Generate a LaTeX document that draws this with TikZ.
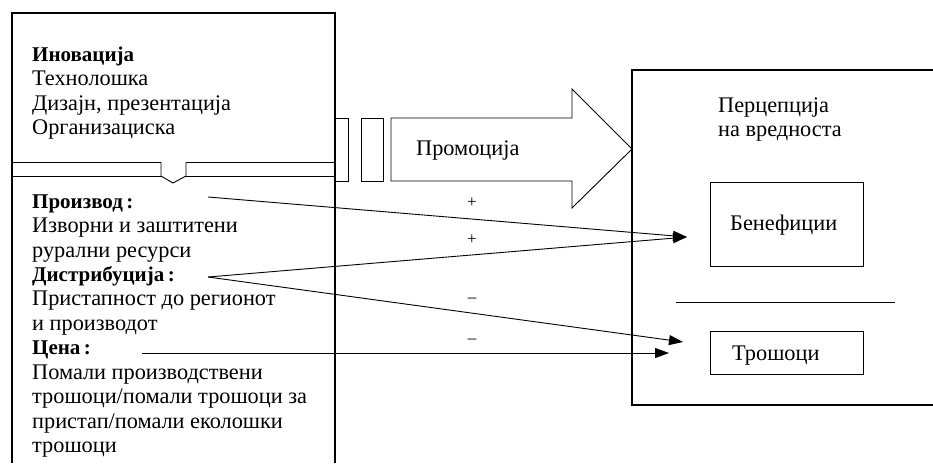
\documentclass[tikz,border=0pt]{standalone}
\usepackage{fontspec}
\setmainfont{Liberation Serif}
\usetikzlibrary{arrows.meta}
\begin{document}
\begin{tikzpicture}[x=1pt,y=-1pt,
  txt/.style={anchor=base west,inner sep=0pt,font=\fontsize{22.3}{24}\selectfont},
  btxt/.style={txt,font=\fontsize{21}{24}\selectfont\bfseries},
  sign/.style={inner sep=0pt,font=\fontsize{17}{18}\selectfont},
  heavy/.style={line width=2.6pt},
  thin/.style={line width=0.9pt},
  conn/.style={line width=0.9pt,-{Triangle[length=14pt,width=10pt]}}]
\useasboundingbox (0,0) rectangle (933,463);

% promotion arrow and small bars
\draw[thin,fill=white] (335,118) rectangle (348,181);
\draw[thin,fill=white] (361,118) rectangle (383,181);
\draw[thin,fill=white] (391,118) -- (572,118) -- (572,89) -- (632,149) -- (572,208) -- (572,181) -- (391,181) -- cycle;
\node[txt] (promo) at (416,155) {Промоција};

% left box
\draw[heavy] (12,463) -- (12,13) -- (335,13) -- (335,463);
\draw[thin] (12,162) -- (335,162);
\draw[thin] (12,176) -- (335,176);
\draw[thin,fill=white] (161,162) -- (161,176) -- (173,183) -- (186,176) -- (186,162);

\node[btxt] (inov) at (32,61) {Иновација};
\node[txt] (teh) at (32,85.5) {Технолошка};
\node[txt] (diz) at (32,110) {Дизајн, презентација};
\node[txt] (org) at (32,134.5) {Организациска};

\node[btxt] (proiz) at (32,208) {Производ\,:};
\node[txt] (izv) at (32,232.5) {Изворни и заштитени};
\node[txt] (rur) at (32,257) {рурални ресурси};
\node[btxt] (distr) at (32,281) {Дистрибуција\,:};
\node[txt] (prist) at (32,305.5) {Пристапност до регионот};
\node[txt] (iproiz) at (32,330) {и производот};
\node[btxt] (cena) at (32,354) {Цена\,:};
\node[txt] (pom1) at (32,379) {Помали производствени};
\node[txt] (pom2) at (32,403.5) {трошоци/помали трошоци за};
\node[txt] (pom3) at (32,428) {пристап/помали еколошки};
\node[txt] (pom4) at (32,452.5) {трошоци};

% right box
\draw[heavy] (933,70) -- (632,70) -- (632,405) -- (933,405);
\node[txt] (perc1) at (718,112) {Перцепција};
\node[txt] (perc2) at (718,136.5) {на вредноста};
\node[draw,thin,minimum width=153pt,minimum height=84pt,inner sep=0pt] (ben) at (786.5,224) {};
\node[txt] (bentxt) at (730,230) {Бенефиции};
\draw[thin] (676,302) -- (895,302);
\node[draw,thin,minimum width=153pt,minimum height=43pt,inner sep=0pt] (tro) at (786.5,352.5) {};
\node[txt] (trotxt) at (732,360) {Трошоци};

% connectors
\coordinate (p1) at (208,197);
\coordinate (d1) at (208,277);
\coordinate (c1) at (142,353);
\coordinate (benT) at (687,237);
\coordinate (troT) at (683,342);
\coordinate (troT2) at (669,353);
\draw[conn] (p1) -- (benT);
\draw[conn] (d1) -- (benT);
\draw[conn] (d1) -- (troT);
\draw[conn] (c1) -- (troT2);

\node[sign] (s1) at (472,203) {+};
\node[sign] (s2) at (472,240) {+};
\node[sign] (s3) at (472,300) {–};
\node[sign] (s4) at (472,341) {–};
\end{tikzpicture}
\end{document}
